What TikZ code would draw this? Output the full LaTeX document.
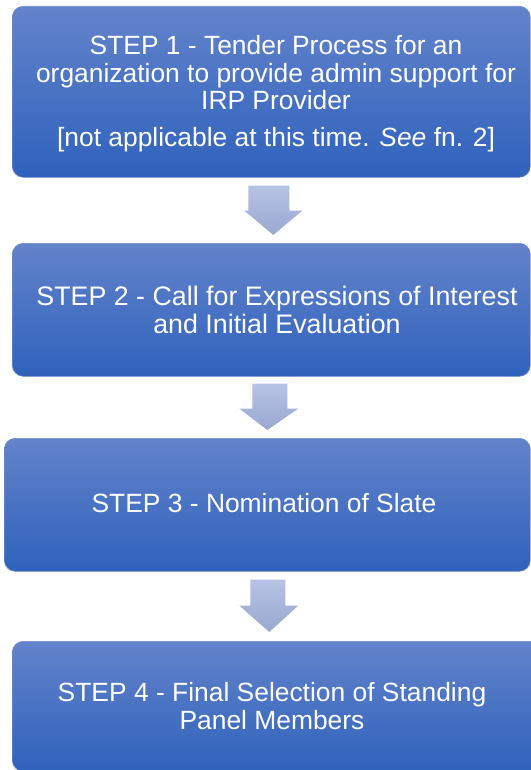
\documentclass[tikz,border=0pt]{standalone}
\usepackage{fontspec}
\setmainfont{Liberation Sans}
\usetikzlibrary{calc}
\definecolor{boxtop}{RGB}{99,131,203}
\definecolor{boxbot}{RGB}{47,98,188}
\definecolor{boxline}{RGB}{112,140,206}
\definecolor{arrtop}{RGB}{182,195,229}
\definecolor{arrbot}{RGB}{154,167,208}
\tikzset{
  stepbox/.style={rectangle, rounded corners=11bp, anchor=north west,
    top color=boxtop, bottom color=boxbot, draw=boxline, line width=0.6bp,
    text=white, align=center, inner sep=0pt},
  blockarrow/.style={top color=arrtop, bottom color=arrbot, draw=none},
  steptext/.style={text=white, align=center, font=\fontsize{26.4bp}{27.5bp}\selectfont}
}
\begin{document}
\begin{tikzpicture}[x=1bp,y=-1bp]
\useasboundingbox (0,0) rectangle (531,770);
\node[stepbox, minimum width=518bp, minimum height=171bp] (b1) at (12,6) {};
\node[stepbox, minimum width=518bp, minimum height=133bp] (b2) at (12,243) {};
\node[stepbox, minimum width=526bp, minimum height=133bp] (b3) at (4,438) {};
\node[stepbox, minimum width=530bp, minimum height=130bp] (b4) at (12,641) {};

\node[steptext] (t1) at (276,94)
  {STEP 1 - Tender Process for an\\organization to provide admin support for\\IRP Provider\\[9.5bp][not applicable at this time. \textit{See} fn. 2]};
\node[steptext, font=\fontsize{26.8bp}{27.5bp}\selectfont] (t2) at (277,310)
  {STEP 2 - Call for Expressions of Interest\\and Initial Evaluation};
\node[steptext] (t3) at (264,503)
  {STEP 3 - Nomination of Slate};
\node[steptext] (t4) at (272,706)
  {STEP 4 - Final Selection of Standing\\Panel Members};

% block arrows from each step to the next
\path[blockarrow] ($(b1.south)+(-23,8)$) -- ($(b1.south)+(18,8)$) -- ($(b1.south)+(18,33)$)
  -- ($(b1.south)+(31,33)$) -- ($(b2.north)+(2,-8)$)
  -- ($(b1.south)+(-27,33)$) -- ($(b1.south)+(-23,33)$) -- cycle;
\path[blockarrow] ($(b2.south)+(-19,7)$) -- ($(b2.south)+(16,7)$) -- ($(b2.south)+(16,32)$)
  -- ($(b2.south)+(27,32)$) -- ($(b3.north)+(0,-8)$)
  -- ($(b2.south)+(-32,32)$) -- ($(b2.south)+(-19,32)$) -- cycle;
\path[blockarrow] ($(b3.south)+(-17,8)$) -- ($(b3.south)+(18,8)$) -- ($(b3.south)+(18,34)$)
  -- ($(b3.south)+(31,34)$) -- ($(b4.north)+(-8,-9)$)
  -- ($(b3.south)+(-28,34)$) -- ($(b3.south)+(-17,34)$) -- cycle;
\end{tikzpicture}
\end{document}
